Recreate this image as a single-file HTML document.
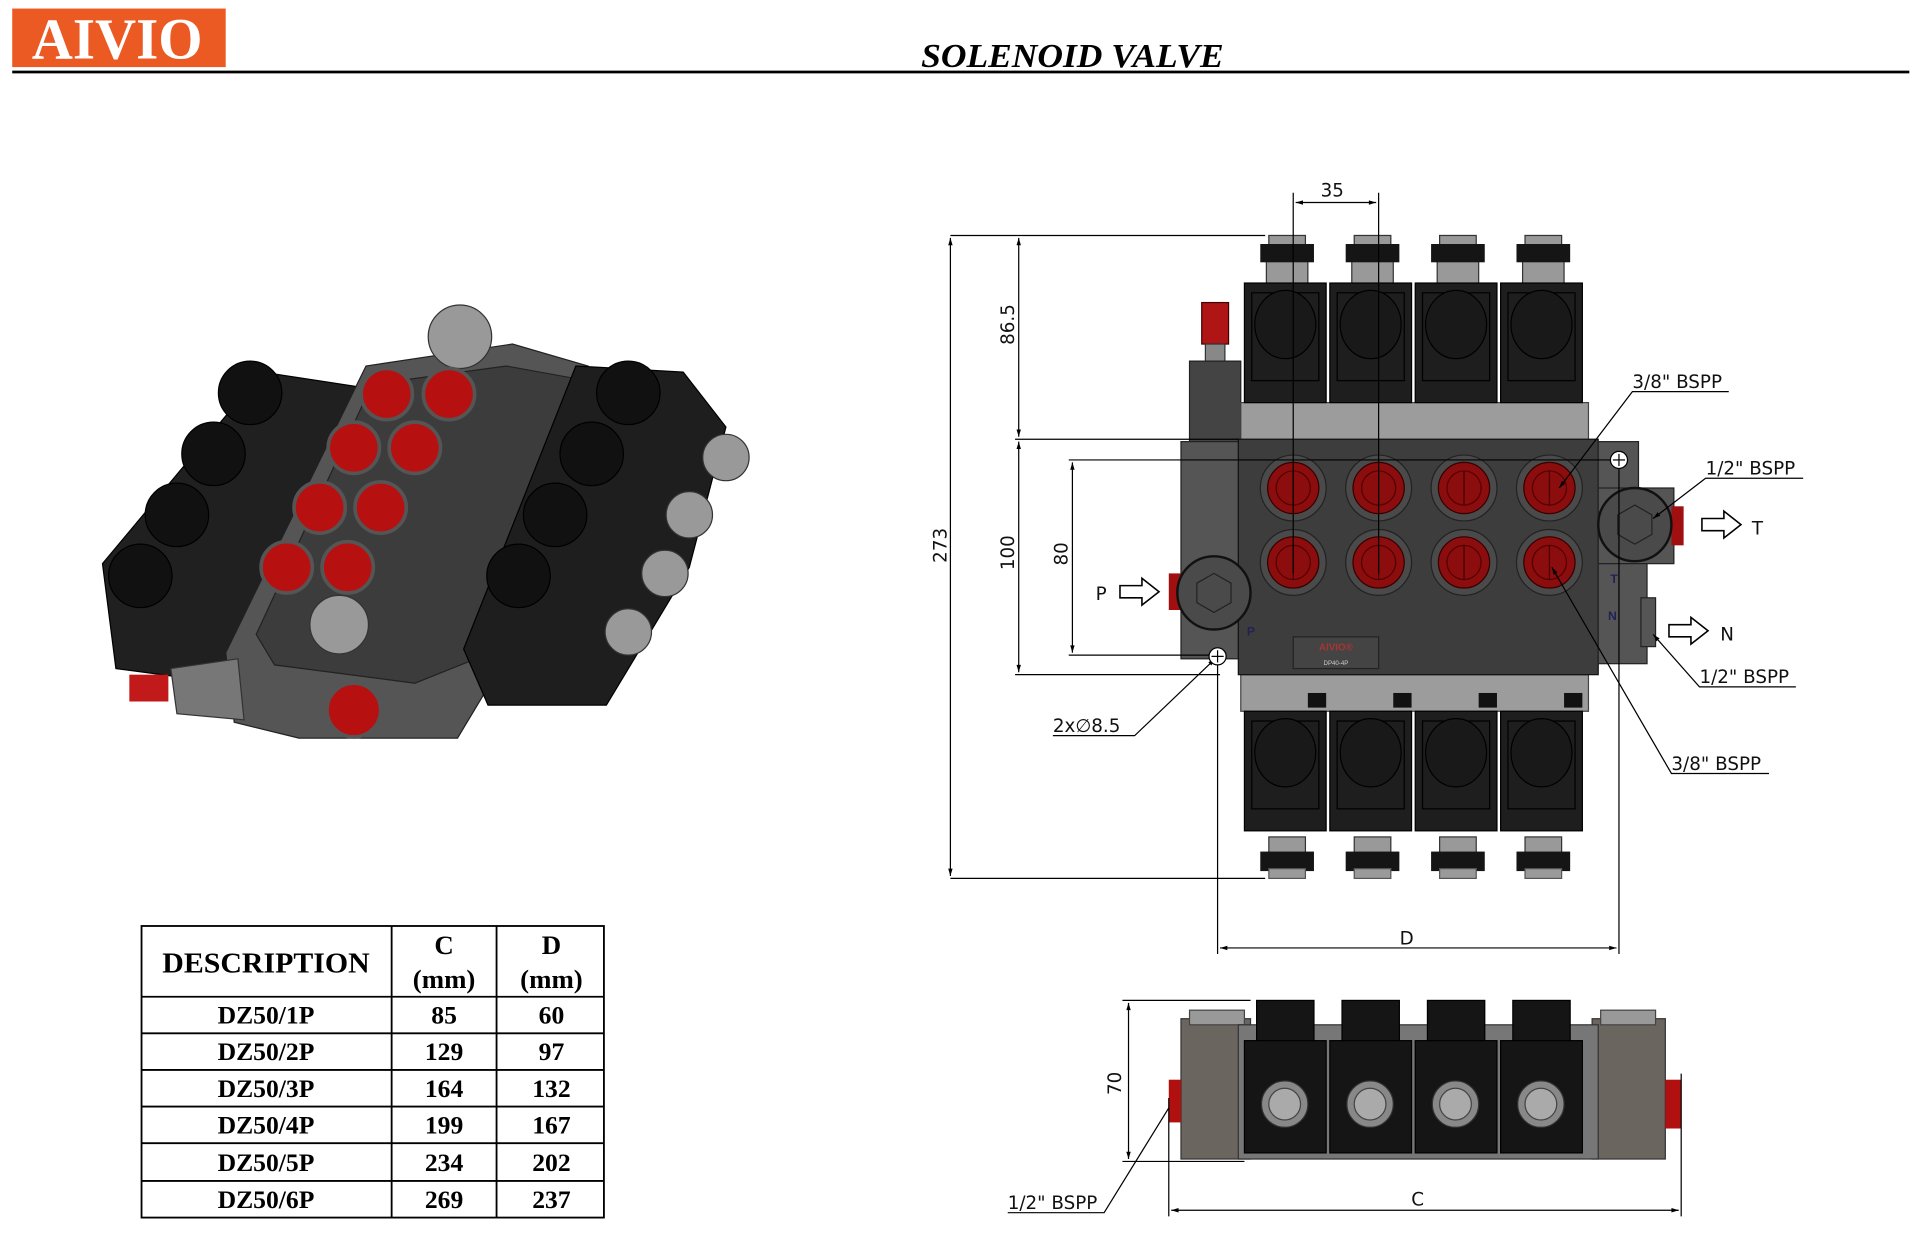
<!DOCTYPE html>
<html><head><meta charset="utf-8"><style>
html,body{margin:0;padding:0;background:#fff;}
svg{display:block;}
text{font-family:"Liberation Sans",sans-serif;}
.s{font-family:"Liberation Serif",serif;font-weight:bold;}
.d{font-family:"DejaVu Sans","Liberation Sans",sans-serif;font-size:15px;fill:#111;}
</style></head><body>
<svg width="1913" height="1251" viewBox="0 0 1568 1025.4" xmlns="http://www.w3.org/2000/svg">
<defs>
<marker id="a" viewBox="0 0 10 10" refX="10" refY="5" markerWidth="9" markerHeight="6" orient="auto-start-reverse"><path d="M0,2 L10,5 L0,8 z" fill="#000"/></marker>
<g id="coil"><rect x="0" y="0" width="67" height="98" fill="#1e1e1e" stroke="#000"/><rect x="6" y="8" width="55" height="72" fill="none" stroke="#000"/><ellipse cx="33.5" cy="34" rx="25" ry="28" fill="#191919" stroke="#000"/></g>
<g id="port"><circle r="27" fill="#4a4a4a" stroke="#222"/><circle r="21" fill="#8b0d0d" stroke="#300"/><circle r="14" fill="none" stroke="#500"/><line x1="0" y1="-14" x2="0" y2="14" stroke="#400"/></g>
<g id="arr"><path d="M0,-5 L18,-5 L18,-11 L32,0 L18,11 L18,5 L0,5 z" fill="#fff" stroke="#000" stroke-width="1.3"/></g>
</defs>

<!-- header -->
<rect x="10" y="7" width="175" height="48" fill="#ec5a24"/>
<text x="96" y="48" class="s" font-size="48" fill="#fff" text-anchor="middle" textLength="140" lengthAdjust="spacingAndGlyphs">AIVIO</text>
<text x="879" y="55" class="s" font-style="italic" font-size="28" text-anchor="middle" textLength="248" lengthAdjust="spacingAndGlyphs">SOLENOID VALVE</text>
<line x1="10" y1="59" x2="1565" y2="59" stroke="#000" stroke-width="2.2"/>

<!-- 3D render -->
<g>
<polygon points="84,462 215,305 300,318 292,362 200,535 185,560 95,548" fill="#202020" stroke="#000"/>
<polygon points="185,535 300,300 420,282 482,300 402,560 375,605 245,605 192,592" fill="#555" stroke="#222"/>
<polygon points="210,520 305,315 415,300 470,310 390,540 340,560 225,545" fill="#3c3c3c" stroke="#222"/>
<polygon points="380,532 472,300 560,305 595,350 565,465 497,578 400,578" fill="#1e1e1e" stroke="#000"/>
<g fill="#111" stroke="#000"><circle cx="205" cy="322" r="26"/><circle cx="175" cy="372" r="26"/><circle cx="145" cy="422" r="26"/><circle cx="115" cy="472" r="26"/>
<circle cx="515" cy="322" r="26"/><circle cx="485" cy="372" r="26"/><circle cx="455" cy="422" r="26"/><circle cx="425" cy="472" r="26"/></g>
<g fill="#999" stroke="#333"><circle cx="595" cy="375" r="19"/><circle cx="565" cy="422" r="19"/><circle cx="545" cy="470" r="19"/><circle cx="515" cy="518" r="19"/>
<circle cx="377" cy="276" r="26"/><circle cx="278" cy="512" r="24"/></g>
<g fill="#b71010" stroke="#555" stroke-width="3">
<circle cx="317" cy="323" r="21"/><circle cx="368" cy="323" r="21"/><circle cx="290" cy="367" r="21"/><circle cx="340" cy="367" r="21"/>
<circle cx="262" cy="416" r="21"/><circle cx="312" cy="416" r="21"/><circle cx="235" cy="465" r="21"/><circle cx="285" cy="465" r="21"/>
<circle cx="290" cy="582" r="22"/></g>
<polygon points="140,548 195,540 200,590 145,585" fill="#777" stroke="#333"/>
<rect x="106" y="553" width="32" height="22" fill="#c21a1a"/>
</g>

<!-- table -->
<g stroke="#000" stroke-width="1.5" fill="none">
<rect x="116" y="759" width="379" height="239"/>
<line x1="116" y1="817" x2="495" y2="817"/><line x1="116" y1="847" x2="495" y2="847"/><line x1="116" y1="877" x2="495" y2="877"/>
<line x1="116" y1="907" x2="495" y2="907"/><line x1="116" y1="937" x2="495" y2="937"/><line x1="116" y1="968" x2="495" y2="968"/>
<line x1="321" y1="759" x2="321" y2="998"/><line x1="407" y1="759" x2="407" y2="998"/>
</g>
<g class="s" font-size="21" text-anchor="middle">
<text x="218" y="797" class="s" font-size="23" textLength="170" lengthAdjust="spacingAndGlyphs">DESCRIPTION</text>
<text x="364" y="782" class="s" font-size="22">C</text><text x="364" y="810" class="s" font-size="22">(mm)</text>
<text x="452" y="782" class="s" font-size="22">D</text><text x="452" y="810" class="s" font-size="22">(mm)</text>
<text x="218" y="839" class="s">DZ50/1P</text><text x="364" y="839" class="s">85</text><text x="452" y="839" class="s">60</text>
<text x="218" y="869" class="s">DZ50/2P</text><text x="364" y="869" class="s">129</text><text x="452" y="869" class="s">97</text>
<text x="218" y="899" class="s">DZ50/3P</text><text x="364" y="899" class="s">164</text><text x="452" y="899" class="s">132</text>
<text x="218" y="929" class="s">DZ50/4P</text><text x="364" y="929" class="s">199</text><text x="452" y="929" class="s">167</text>
<text x="218" y="960" class="s">DZ50/5P</text><text x="364" y="960" class="s">234</text><text x="452" y="960" class="s">202</text>
<text x="218" y="990" class="s">DZ50/6P</text><text x="364" y="990" class="s">269</text><text x="452" y="990" class="s">237</text>
</g>

<!-- top view -->
<g>
<rect x="985" y="248" width="22" height="34" fill="#b01515" stroke="#400"/>
<rect x="988" y="282" width="16" height="14" fill="#888" stroke="#333"/>
<rect x="975" y="296" width="42" height="66" fill="#444" stroke="#222"/>
<g fill="#999" stroke="#333">
<rect x="1040" y="193" width="30" height="8"/><rect x="1110" y="193" width="30" height="8"/><rect x="1180" y="193" width="30" height="8"/><rect x="1250" y="193" width="30" height="8"/>
<rect x="1040" y="686" width="30" height="26"/><rect x="1110" y="686" width="30" height="26"/><rect x="1180" y="686" width="30" height="26"/><rect x="1250" y="686" width="30" height="26"/>
<rect x="1038" y="214" width="34" height="20"/><rect x="1108" y="214" width="34" height="20"/><rect x="1178" y="214" width="34" height="20"/><rect x="1248" y="214" width="34" height="20"/>
</g>
<g fill="#151515">
<rect x="1033" y="200" width="44" height="15"/><rect x="1103" y="200" width="44" height="15"/><rect x="1173" y="200" width="44" height="15"/><rect x="1243" y="200" width="44" height="15"/>
<rect x="1033" y="698" width="44" height="16"/><rect x="1103" y="698" width="44" height="16"/><rect x="1173" y="698" width="44" height="16"/><rect x="1243" y="698" width="44" height="16"/>
</g>
<g fill="#9a9a9a" stroke="#555"><rect x="1040" y="712" width="30" height="8"/><rect x="1110" y="712" width="30" height="8"/><rect x="1180" y="712" width="30" height="8"/><rect x="1250" y="712" width="30" height="8"/></g>
<rect x="1017" y="330" width="285" height="32" fill="#9c9c9c" stroke="#444"/>
<rect x="1017" y="553" width="285" height="30" fill="#9c9c9c" stroke="#444"/>
<g fill="#111"><rect x="1020" y="315" width="15" height="12"/><rect x="1090" y="315" width="15" height="12"/><rect x="1160" y="315" width="15" height="12"/><rect x="1230" y="315" width="15" height="12"/>
<rect x="1072" y="568" width="15" height="12"/><rect x="1142" y="568" width="15" height="12"/><rect x="1212" y="568" width="15" height="12"/><rect x="1282" y="568" width="15" height="12"/></g>
<use href="#coil" x="1020" y="232"/><use href="#coil" x="1090" y="232"/><use href="#coil" x="1160" y="232"/><use href="#coil" x="1230" y="232"/>
<use href="#coil" x="1020" y="583"/><use href="#coil" x="1090" y="583"/><use href="#coil" x="1160" y="583"/><use href="#coil" x="1230" y="583"/>
<rect x="968" y="362" width="50" height="178" fill="#555" stroke="#222"/>
<rect x="1015" y="360" width="295" height="193" fill="#3d3d3d" stroke="#111"/>
<rect x="1310" y="362" width="33" height="40" fill="#555" stroke="#222"/>
<rect x="1310" y="400" width="62" height="62" fill="#555" stroke="#222"/>
<rect x="1310" y="462" width="40" height="82" fill="#555" stroke="#222"/>
<rect x="1345" y="490" width="12" height="40" fill="#555" stroke="#222"/>
<rect x="1370" y="415" width="10" height="32" fill="#a01010"/>
<rect x="958" y="470" width="10" height="30" fill="#a01010"/>
<use href="#port" x="1060" y="400"/><use href="#port" x="1130" y="400"/><use href="#port" x="1200" y="400"/><use href="#port" x="1270" y="400"/>
<use href="#port" x="1060" y="461"/><use href="#port" x="1130" y="461"/><use href="#port" x="1200" y="461"/><use href="#port" x="1270" y="461"/>
<circle cx="995" cy="486" r="30" fill="#4a4a4a" stroke="#111" stroke-width="2"/><polygon points="995,470 1009,478 1009,494 995,502 981,494 981,478" fill="none" stroke="#222"/>
<circle cx="1340" cy="430" r="30" fill="#4a4a4a" stroke="#111" stroke-width="2"/><polygon points="1340,414 1354,422 1354,438 1340,446 1326,438 1326,422" fill="none" stroke="#222"/>
<rect x="1060" y="522" width="70" height="26" fill="#444" stroke="#222"/>
<text x="1095" y="533" font-size="8" fill="#a33" text-anchor="middle" font-weight="bold">AIVIO®</text>
<text x="1095" y="545" font-size="5" fill="#ccc" text-anchor="middle">DP40-4P</text>
<text x="1022" y="521" font-size="10" fill="#225" font-weight="bold">P</text>
<text x="1320" y="478" font-size="10" fill="#225" font-weight="bold">T</text>
<text x="1318" y="508" font-size="10" fill="#225" font-weight="bold">N</text>
</g>

<g stroke="#000" stroke-width="1" fill="none">
<line x1="779" y1="193" x2="1037" y2="193"/><line x1="779" y1="720" x2="1037" y2="720"/>
<line x1="779" y1="195" x2="779" y2="718" marker-start="url(#a)" marker-end="url(#a)"/>
<line x1="835" y1="195" x2="835" y2="358" marker-start="url(#a)" marker-end="url(#a)"/>
<line x1="835" y1="362" x2="835" y2="551" marker-start="url(#a)" marker-end="url(#a)"/>
<line x1="832" y1="360" x2="1015" y2="360"/><line x1="832" y1="553" x2="1000" y2="553"/>
<line x1="879" y1="379" x2="879" y2="535" marker-start="url(#a)" marker-end="url(#a)"/>
<line x1="876" y1="377" x2="1327" y2="377"/><line x1="876" y1="537" x2="998" y2="537"/>
<line x1="1060" y1="158" x2="1060" y2="470"/><line x1="1130" y1="158" x2="1130" y2="470"/>
<line x1="1062" y1="166" x2="1128" y2="166" marker-start="url(#a)" marker-end="url(#a)"/>
<line x1="998" y1="537" x2="998" y2="782"/><line x1="1327" y1="377" x2="1327" y2="782"/>
<line x1="1000" y1="777" x2="1325" y2="777" marker-start="url(#a)" marker-end="url(#a)"/>
<path d="M1417,321 L1338,321 L1278,400" marker-end="url(#a)"/>
<path d="M1478,392 L1398,392 L1355,425" marker-end="url(#a)"/>
<path d="M1472,563 L1393,563 L1355,520" marker-end="url(#a)"/>
<path d="M1450,634 L1370,634 L1272,465" marker-end="url(#a)"/>
<path d="M863,603 L930,603 L996,540" marker-end="url(#a)"/>
<path d="M826,994 L905,994 L963,900" marker-end="url(#a)"/>
</g>
<g fill="#fff" stroke="#000"><circle cx="998" cy="538" r="7"/><circle cx="1327" cy="377" r="7"/></g>
<g stroke="#000"><line x1="993" y1="538" x2="1003" y2="538"/><line x1="998" y1="533" x2="998" y2="543"/><line x1="1322" y1="377" x2="1332" y2="377"/><line x1="1327" y1="372" x2="1327" y2="382"/></g>
<use href="#arr" x="1395" y="430"/><use href="#arr" x="1368" y="517"/><use href="#arr" x="918" y="485"/>
<text class="d" x="1436" y="438" font-size="19">T</text>
<text class="d" x="1410" y="525" font-size="19">N</text>
<text class="d" x="898" y="492" font-size="19">P</text>
<text class="d" x="1338" y="318">3/8" BSPP</text>
<text class="d" x="1398" y="389">1/2" BSPP</text>
<text class="d" x="1393" y="560">1/2" BSPP</text>
<text class="d" x="1370" y="631">3/8" BSPP</text>
<text class="d" x="863" y="600">2x∅8.5</text>
<text class="d" x="826" y="991">1/2" BSPP</text>
<text class="d" x="1092" y="161" text-anchor="middle">35</text>
<text class="d" x="1153" y="774" text-anchor="middle">D</text>
<text class="d" x="1162" y="988" text-anchor="middle">C</text>
<text class="d" transform="translate(776,447) rotate(-90)" text-anchor="middle">273</text>
<text class="d" transform="translate(831,266) rotate(-90)" text-anchor="middle">86.5</text>
<text class="d" transform="translate(831,453) rotate(-90)" text-anchor="middle">100</text>
<text class="d" transform="translate(875,454) rotate(-90)" text-anchor="middle">80</text>
<text class="d" transform="translate(919,888) rotate(-90)" text-anchor="middle">70</text>

<g>
<rect x="968" y="835" width="57" height="115" fill="#6b6560" stroke="#333"/>
<rect x="975" y="828" width="45" height="12" fill="#999" stroke="#444"/>
<rect x="1305" y="835" width="60" height="115" fill="#6b6560" stroke="#333"/>
<rect x="1312" y="828" width="45" height="12" fill="#999" stroke="#444"/>
<rect x="1015" y="840" width="295" height="110" fill="#777" stroke="#333"/>
<g fill="#151515" stroke="#000">
<rect x="1030" y="820" width="47" height="35"/><rect x="1100" y="820" width="47" height="35"/><rect x="1170" y="820" width="47" height="35"/><rect x="1240" y="820" width="47" height="35"/>
<rect x="1020" y="853" width="67" height="92"/><rect x="1090" y="853" width="67" height="92"/><rect x="1160" y="853" width="67" height="92"/><rect x="1230" y="853" width="67" height="92"/>
</g>
<g fill="#888" stroke="#333"><circle cx="1053" cy="905" r="19"/><circle cx="1123" cy="905" r="19"/><circle cx="1193" cy="905" r="19"/><circle cx="1263" cy="905" r="19"/></g>
<g fill="#aaa" stroke="#444"><circle cx="1053" cy="905" r="13"/><circle cx="1123" cy="905" r="13"/><circle cx="1193" cy="905" r="13"/><circle cx="1263" cy="905" r="13"/></g>
<rect x="958" y="885" width="10" height="35" fill="#b01010"/>
<rect x="1365" y="885" width="13" height="40" fill="#b01010"/>
</g>
<g stroke="#000" stroke-width="1" fill="none">
<line x1="920" y1="820" x2="1025" y2="820"/><line x1="920" y1="952" x2="1020" y2="952"/>
<line x1="925" y1="822" x2="925" y2="950" marker-start="url(#a)" marker-end="url(#a)"/>
<line x1="958" y1="900" x2="958" y2="997"/><line x1="1378" y1="880" x2="1378" y2="997"/>
<line x1="960" y1="992" x2="1376" y2="992" marker-start="url(#a)" marker-end="url(#a)"/>
</g>
</svg>
</body></html>
